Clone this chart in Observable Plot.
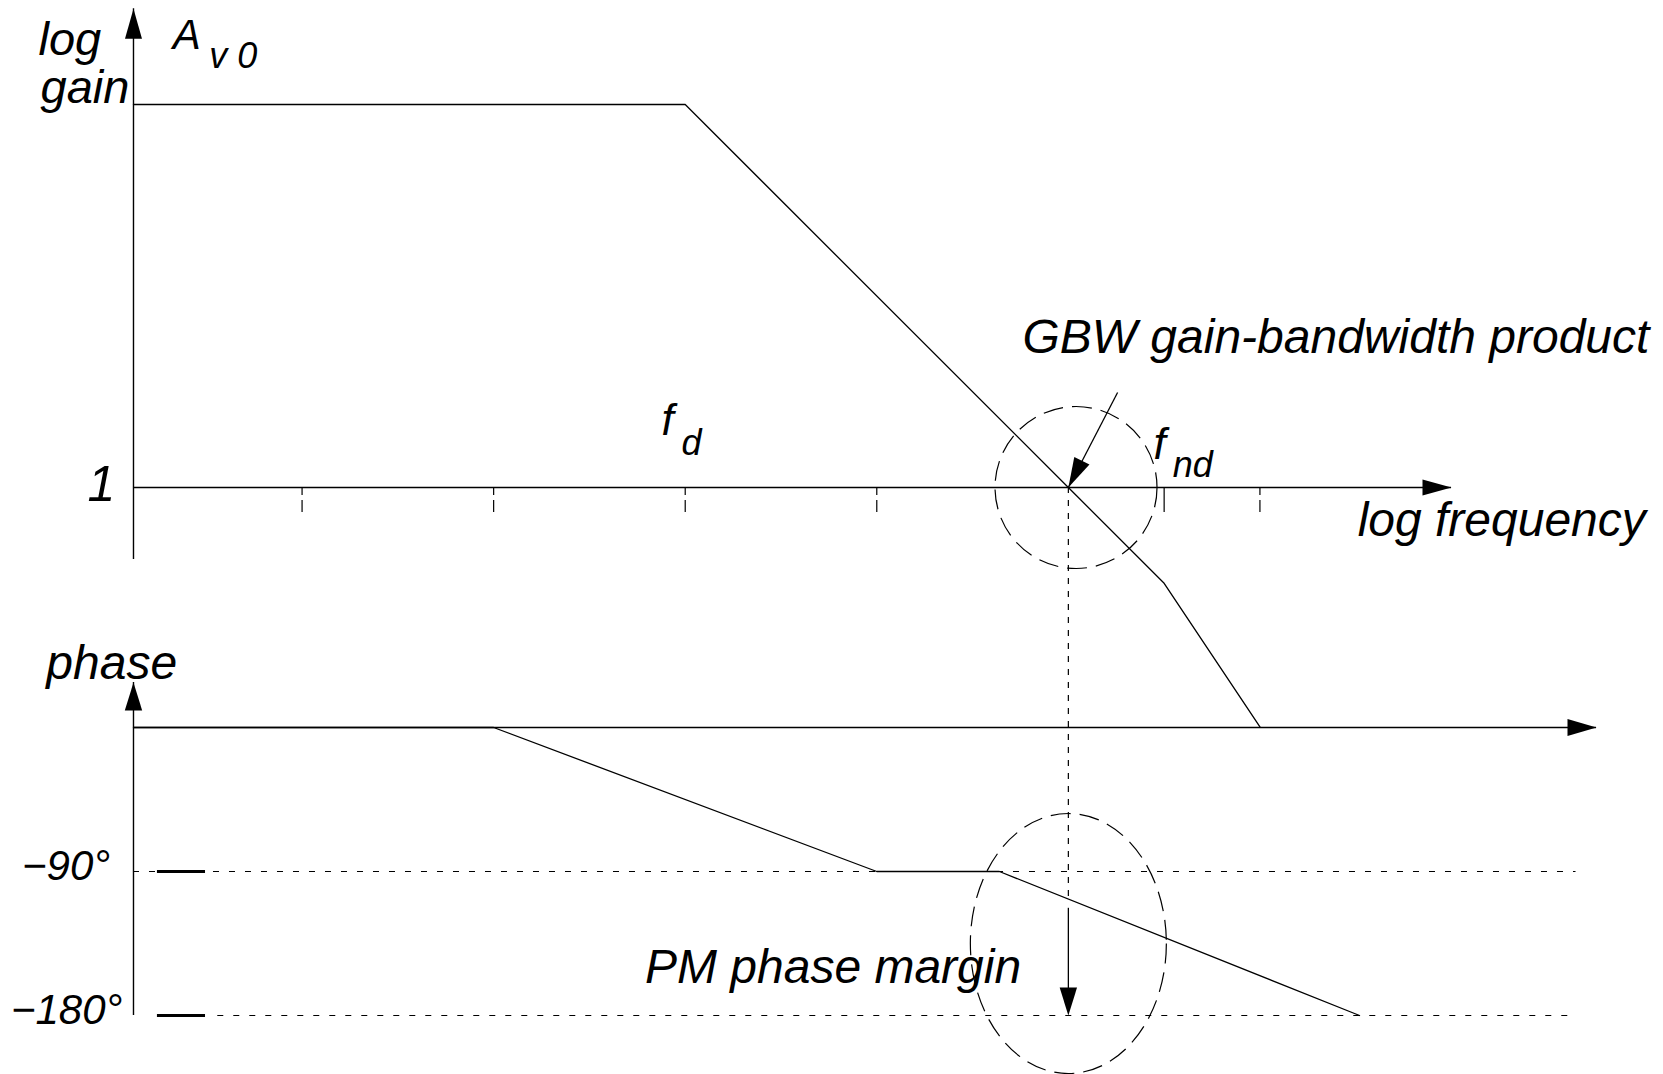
<!DOCTYPE html>
<html><head><meta charset="utf-8">
<script src="https://cdn.jsdelivr.net/npm/d3@7"></script>
<script src="https://cdn.jsdelivr.net/npm/@observablehq/plot@0.6"></script>
<style>
html,body{margin:0;padding:0;background:#fff;}
#chart{position:relative;width:1663px;height:1074px;overflow:hidden;background:#fff;}
#chart svg{position:absolute;left:0;top:0;}
</style></head><body><div id="chart"></div>
<script>
// ---------- data (x: log frequency in decades, gain: log gain in decades, phase: degrees)
const gainFreq = [0.12, 3, 5, 5.5, 6];
const gainLog = [2, 2, 0, -0.5, -1.25];
const phaseFreq = [0.12, 2, 4, 4.64, 6.52];
const phaseDeg = [0, 0, -90, -90, -180];
const freqTicks = [1, 2, 3, 4, 6];
const fndTicks = [5.5];
const gbwFreq = [5];
const phaseRefs = [-90, -180];
const phaseRefLabels = ["\u221290\u00b0", "\u2212180\u00b0"];
const axisFreq = 0.12;          // where both vertical axes stand
const gainAxisRange = [-0.376, 2.5];
const freqAxisEnd = 7.0;
const phaseAxisRange = [-180, 28.1];
const phaseAxisEnd = 7.757;
const refLineEnd = 7.65;

// annotation anchors (data units)
const gainTexts = [
  {text: "log", x: -0.376, y: 2.256, size: 47},
  {text: "gain", x: -0.365, y: 2.010, size: 47},
  {text: "A", x: 0.325, y: 2.292, size: 42},
  {text: "v 0", x: 0.515, y: 2.190, size: 36},
  {text: "1", x: -0.12, y: -0.068, size: 50},
  {text: "f", x: 2.876, y: 0.272, size: 44},
  {text: "d", x: 2.98, y: 0.168, size: 36},
  {text: "f", x: 5.445, y: 0.151, size: 44},
  {text: "nd", x: 5.545, y: 0.055, size: 36},
  {text: "GBW gain-bandwidth product", x: 4.76, y: 0.70, size: 48},
  {text: "log frequency", x: 6.51, y: -0.251, size: 48}
];
const phaseTexts = [
  {text: "phase", x: -0.335, y: 30.6, size: 48},
  {text: phaseRefLabels[0], x: -0.462, y: -95.6, size: 42},
  {text: phaseRefLabels[1], x: -0.52, y: -185, size: 42},
  {text: "PM phase margin", x: 2.79, y: -159.4, size: 48}
];

// ---------- helpers
function head(angleDeg, L = 29, Wd = 8.5) {
  const a = angleDeg * Math.PI / 180, c = Math.cos(a), s = Math.sin(a);
  const pt = (u, v) => [u * c - v * s, u * s + v * c];
  return {draw(ctx) {
    const p1 = pt(-L, -Wd), p2 = pt(-L, Wd);
    ctx.moveTo(0, 0); ctx.lineTo(p1[0], p1[1]); ctx.lineTo(p2[0], p2[1]); ctx.closePath();
  }};
}
function ellipse(rx, ry) {
  const k = 0.5523;
  return {draw(ctx) {
    ctx.moveTo(rx, 0);
    ctx.bezierCurveTo(rx, ry * k, rx * k, ry, 0, ry);
    ctx.bezierCurveTo(-rx * k, ry, -rx, ry * k, -rx, 0);
    ctx.bezierCurveTo(-rx, -ry * k, -rx * k, -ry, 0, -ry);
    ctx.bezierCurveTo(rx * k, -ry, rx, -ry * k, rx, 0);
    ctx.closePath();
  }};
}
const font = "'Liberation Sans', Arial, Helvetica, sans-serif";
function texts(arr) {
  return d3.groups(arr, d => d.size).map(([size, rows]) =>
    Plot.text(rows, {x: "x", y: "y", text: "text", fontSize: size, textAnchor: "start",
      lineAnchor: "bottom", fontStyle: "italic", fontFamily: font, fill: "black"}));
}
const W = 1663, H = 1074;
const common = {
  width: W, height: H, marginLeft: 110, marginRight: 212, marginTop: 0, marginBottom: 0,
  x: {domain: [0, 7], axis: null},
  style: {background: "transparent", overflow: "visible", maxWidth: "none"}
};
const lw = 1.3;
const gainPts = gainFreq.map((x, i) => ({x, y: gainLog[i]}));
const phasePts = phaseFreq.map((x, i) => ({x, y: phaseDeg[i]}));

// ---------- gain plot
const gainPlot = Plot.plot({
  ...common,
  y: {domain: [-3.065, 2.543], axis: null},
  marks: [
    Plot.ruleX([axisFreq], {y1: gainAxisRange[0], y2: gainAxisRange[1], stroke: "black", strokeWidth: 1.4}),
    Plot.dot([{x: axisFreq, y: gainAxisRange[1]}], {x: "x", y: "y", symbol: head(-90, 30, 8.5), fill: "black", stroke: "none"}),
    Plot.ruleY([0], {x1: axisFreq, x2: freqAxisEnd, stroke: "black", strokeWidth: 1.4}),
    Plot.dot([{x: freqAxisEnd, y: 0}], {x: "x", y: "y", symbol: head(0, 29, 8), fill: "black", stroke: "none"}),
    Plot.ruleX(freqTicks, {x: d => d, y1: 0, y2: -0.13, stroke: "black", strokeWidth: 1.2, strokeDasharray: "8,5,14"}),
    Plot.ruleX(fndTicks, {x: d => d, y1: 0, y2: -0.13, stroke: "black", strokeWidth: 1.2}),
    Plot.line(gainPts, {x: "x", y: "y", stroke: "black", strokeWidth: lw}),
    Plot.ruleX(gbwFreq, {x: d => d, y1: 0, y2: -2.14, stroke: "black", strokeWidth: 1.2, strokeDasharray: "6,7"}),
    Plot.dot([{x: 5.04, y: 0}], {x: "x", y: "y", r: 81, fill: "none", stroke: "black", strokeWidth: 1.2, strokeDasharray: "20,9"}),
    Plot.link([{x1: 5.257, y1: 0.496, x2: 5, y2: 0}], {x1: "x1", y1: "y1", x2: "x2", y2: "y2", stroke: "black", strokeWidth: lw}),
    Plot.dot([{x: 5, y: 0}], {x: "x", y: "y", symbol: head(116.8, 30, 8.5), fill: "black", stroke: "none"}),
    ...texts(gainTexts)
  ]
});

// ---------- phase plot
const phasePlot = Plot.plot({
  ...common,
  y: {domain: [-216.875, 454.375], axis: null},
  marks: [
    Plot.ruleX([axisFreq], {y1: phaseAxisRange[0], y2: phaseAxisRange[1], stroke: "black", strokeWidth: 1.4}),
    Plot.dot([{x: axisFreq, y: phaseAxisRange[1]}], {x: "x", y: "y", symbol: head(-90, 28, 8.7), fill: "black", stroke: "none"}),
    Plot.ruleY([0], {x1: axisFreq, x2: phaseAxisEnd, stroke: "black", strokeWidth: 1.4}),
    Plot.dot([{x: phaseAxisEnd, y: 0}], {x: "x", y: "y", symbol: head(0, 29, 8.5), fill: "black", stroke: "none"}),
    Plot.ruleY([phaseRefs[0]], {y: d => d, x1: axisFreq, x2: refLineEnd, stroke: "black", strokeWidth: 1.2, strokeDasharray: "6,10"}),
    Plot.ruleY([phaseRefs[1]], {y: d => d, x1: 0.56, x2: refLineEnd, stroke: "black", strokeWidth: 1.2, strokeDasharray: "6,10"}),
    Plot.ruleY(phaseRefs, {y: d => d, x1: 0.245, x2: 0.496, stroke: "black", strokeWidth: 3}),
    Plot.line(phasePts, {x: "x", y: "y", stroke: "black", strokeWidth: lw}),
    Plot.ruleX(gbwFreq, {x: d => d, y1: -113, y2: -165, stroke: "black", strokeWidth: lw}),
    Plot.dot([{x: gbwFreq[0], y: phaseRefs[1]}], {x: "x", y: "y", symbol: head(90, 28, 8.7), fill: "black", stroke: "none"}),
    Plot.dot([{x: 5.0, y: -135}], {x: "x", y: "y", symbol: ellipse(98, 130), fill: "none", stroke: "black", strokeWidth: 1.2, strokeDasharray: "20,9"}),
    ...texts(phaseTexts)
  ]
});

const el = document.getElementById("chart");
el.appendChild(phasePlot);
el.appendChild(gainPlot);
</script></body></html>
